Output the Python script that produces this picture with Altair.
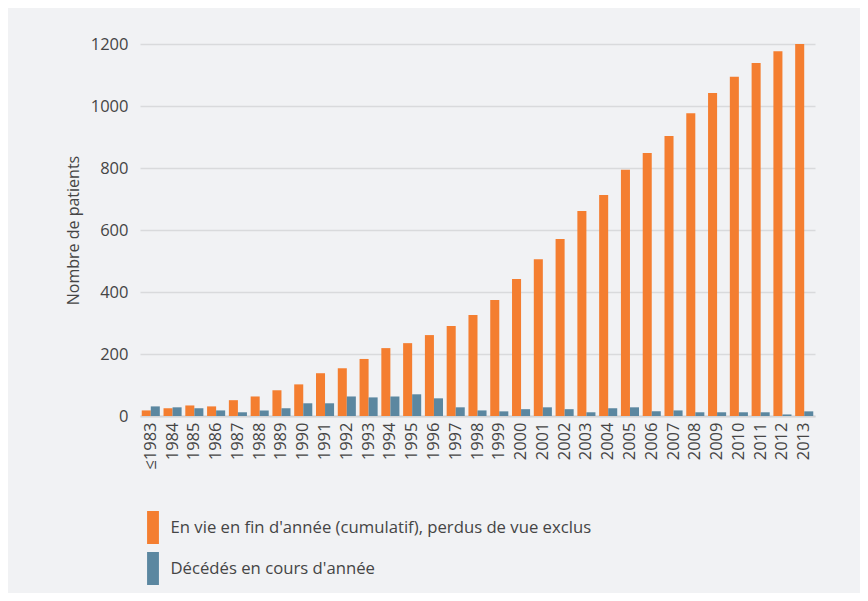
import altair as alt
import pandas as pd

years = ["≤1983", "1984", "1985", "1986", "1987", "1988", "1989", "1990", "1991", "1992",
         "1993", "1994", "1995", "1996", "1997", "1998", "1999", "2000", "2001", "2002",
         "2003", "2004", "2005", "2006", "2007", "2008", "2009", "2010", "2011", "2012", "2013"]
alive = [18, 25, 34, 31, 51, 63, 83, 102, 138, 154, 184, 219, 235, 261, 290, 326, 374, 442,
         506, 571, 661, 713, 794, 848, 903, 977, 1042, 1094, 1139, 1177, 1200]
deaths = [31, 28, 25, 18, 12, 18, 25, 41, 41, 63, 60, 63, 70, 57, 28, 18, 15, 22, 28, 22,
          12, 25, 28, 15, 18, 12, 12, 12, 12, 5, 15]
series = ["En vie en fin d'année (cumulatif), perdus de vue exclus", "Décédés en cours d'année"]
colors = ["#F47E30", "#5B87A0"]
y_ticks = [0, 200, 400, 600, 800, 1000, 1200]

rows = []
for i, y in enumerate(years):
    rows.append({"year": y, "series": series[0], "order": 0, "value": alive[i]})
    rows.append({"year": y, "series": series[1], "order": 1, "value": deaths[i]})
df = pd.DataFrame(rows)

FONT = "Open Sans"
TXT = "#454545"

chart = alt.Chart(df).mark_bar().encode(
    x=alt.X("year:N", sort=years, title=None,
            scale=alt.Scale(paddingInner=0.17, paddingOuter=0.08),
            axis=alt.Axis(labelAngle=-90, labelPadding=6, ticks=False, domain=True,
                          domainColor="#d3d4d6", domainWidth=2, labelFontSize=16.5,
                          labelColor=TXT, labelFont=FONT, labelBaseline="middle")),
    xOffset=alt.XOffset("series:N", sort=series, scale=alt.Scale(paddingInner=0, paddingOuter=0)),
    y=alt.Y("value:Q", title="Nombre de patients",
            scale=alt.Scale(domain=[0, 1200], nice=False),
            axis=alt.Axis(values=y_ticks, format="d", domain=False, ticks=False,
                          labelPadding=12, labelFontSize=16.5, labelColor=TXT, labelFont=FONT,
                          gridColor="#d9dadc", gridWidth=1.5,
                          titleFont=FONT, titleFontSize=16, titleFontWeight="normal",
                          titleColor=TXT, titlePadding=9)),
    color=alt.Color("series:N", sort=series,
                    scale=alt.Scale(domain=series, range=colors),
                    legend=alt.Legend(title=None, orient="none", legendX=-3.5, legendY=467,
                                      direction="vertical",
                                      symbolType="M-0.36,-1H0.36V1H-0.36Z",
                                      symbolSize=1089, symbolStrokeWidth=0,
                                      symbolOpacity=1,
                                      labelFontSize=16.7, labelFont=FONT, labelColor=TXT,
                                      labelLimit=600, labelOffset=1, rowPadding=8,
                                      padding=0)),
).properties(
    width=675, height=372,
    autosize=alt.AutoSizeParams(type="none"),
    padding={"left": 132, "top": 36, "right": 45, "bottom": 177},
    background="#F1F2F4",
).configure_view(stroke=None)

chart.save("out.html", embed_options={"renderer": "svg", "actions": False})
